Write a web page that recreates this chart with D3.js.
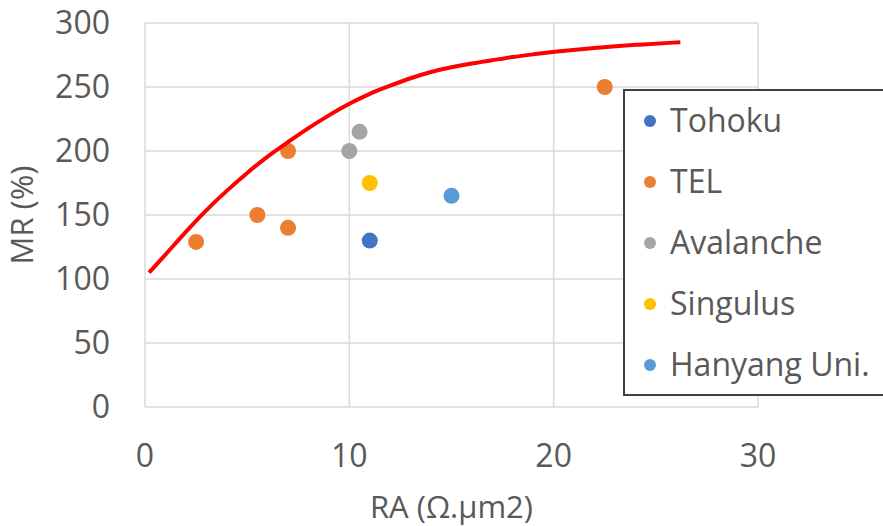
<!DOCTYPE html>
<html>
<head>
<meta charset="utf-8">
<script src="https://cdn.jsdelivr.net/npm/d3@7"></script>
<style>
  body { margin: 0; background: #fff; overflow: hidden; }
  svg text { font-family: "Open Sans", sans-serif; fill: #595959; }
</style>
</head>
<body>
<script>
// scatter series (RA, MR)
const tohoku = [[11, 130]];
const tel = [[2.5, 129], [5.5, 150], [7, 140], [7, 200], [22.5, 250]];
const avalanche = [[10, 200], [10.5, 215]];
const singulus = [[11, 175]];
const hanyang = [[15, 165]];

// red limit curve
const curve = [[0.2, 105], [1, 119], [2, 137], [3, 154], [4, 169], [5, 183], [6, 196],
  [7, 207], [8, 218], [9, 228], [10, 237], [11, 245], [12, 251], [13, 257],
  [14, 262], [15, 265.5], [16, 268.5], [17, 271], [18, 273.5], [19, 275.5],
  [20, 277.5], [22, 280.5], [24, 283], [26.2, 285]];

const seriesNames = ['Tohoku', 'TEL', 'Avalanche', 'Singulus', 'Hanyang Uni.'];
const seriesColors = ['#4472C4', '#ED7D31', '#A5A5A5', '#FFC000', '#5B9BD5'];
const xTicks = [0, 10, 20, 30];
const yTicks = [0, 50, 100, 150, 200, 250, 300];

const series = [tohoku, tel, avalanche, singulus, hanyang];

const width = 883;
const height = 526;
const margin = { top: 23, right: 125, bottom: 119, left: 145 };

const x = d3.scaleLinear().domain([0, 30]).range([margin.left, width - margin.right]);
const y = d3.scaleLinear().domain([0, 300]).range([height - margin.bottom, margin.top]);

const svg = d3.select('body').append('svg')
  .attr('width', width)
  .attr('height', height)
  .style('display', 'block');

// gridlines
svg.append('g')
  .selectAll('line')
  .data(yTicks)
  .join('line')
  .attr('x1', x(0)).attr('x2', x(30))
  .attr('y1', d => y(d)).attr('y2', d => y(d))
  .attr('stroke', '#d9d9d9')
  .attr('stroke-width', 1.5);

svg.append('g')
  .selectAll('line')
  .data(xTicks)
  .join('line')
  .attr('x1', d => x(d)).attr('x2', d => x(d))
  .attr('y1', y(0)).attr('y2', y(300))
  .attr('stroke', '#d9d9d9')
  .attr('stroke-width', 1.5);

// tick labels
svg.append('g')
  .selectAll('text')
  .data(yTicks)
  .join('text')
  .attr('x', 110)
  .attr('y', d => y(d))
  .attr('dy', '0.35em')
  .attr('text-anchor', 'end')
  .style('font-size', '32px')
  .text(d => d);

svg.append('g')
  .selectAll('text')
  .data(xTicks)
  .join('text')
  .attr('x', d => x(d))
  .attr('y', 467)
  .attr('text-anchor', 'middle')
  .style('font-size', '32px')
  .text(d => d);

// axis titles
svg.append('text')
  .attr('x', (x(0) + x(30)) / 2)
  .attr('y', 518)
  .attr('text-anchor', 'middle')
  .style('font-size', '31px')
  .text('RA (Ω.μm2)');

svg.append('text')
  .attr('transform', `translate(33, ${(y(0) + y(300)) / 2}) rotate(-90)`)
  .attr('text-anchor', 'middle')
  .style('font-size', '31px')
  .text('MR (%)');

// points
series.forEach((pts, i) => {
  svg.append('g')
    .selectAll('circle')
    .data(pts)
    .join('circle')
    .attr('cx', d => x(d[0]))
    .attr('cy', d => y(d[1]))
    .attr('r', 8)
    .attr('fill', seriesColors[i]);
});

// curve
const line = d3.line()
  .x(d => x(d[0]))
  .y(d => y(d[1]))
  .curve(d3.curveBasis);

svg.append('path')
  .datum(curve)
  .attr('d', line)
  .attr('fill', 'none')
  .attr('stroke', '#FF0000')
  .attr('stroke-width', 4);

// legend
const legend = svg.append('g');
legend.append('rect')
  .attr('x', 624)
  .attr('y', 90)
  .attr('width', 270)
  .attr('height', 305)
  .attr('fill', '#fff')
  .attr('stroke', '#404040')
  .attr('stroke-width', 2);

const items = legend.selectAll('g.item')
  .data(seriesNames)
  .join('g')
  .attr('class', 'item')
  .attr('transform', (d, i) => `translate(650, ${121 + i * 61})`);

items.append('circle')
  .attr('r', 6)
  .attr('fill', (d, i) => seriesColors[i]);

items.append('text')
  .attr('x', 20)
  .attr('dy', '0.35em')
  .style('font-size', '32px')
  .text(d => d);
</script>
</body>
</html>
